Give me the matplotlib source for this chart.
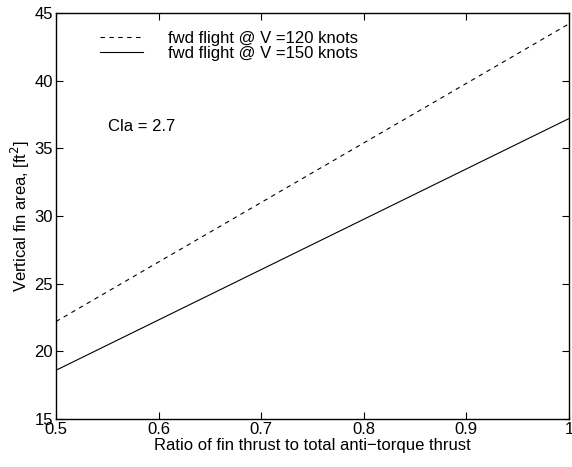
import matplotlib
matplotlib.use("Agg")
from matplotlib import pyplot as plt

plt.rcParams['font.family'] = ['Liberation Sans', 'DejaVu Sans']

ratio = [0.5, 1.0]
area_120 = [22.2, 44.2]
area_150 = [18.6, 37.2]
labels = ['fwd flight @ V =120 knots', 'fwd flight @ V =150 knots']

fig = plt.figure(figsize=(5.72, 4.67), dpi=100)
ax = fig.add_axes([0.0979, 0.1028, 0.8969, 0.8694])

ax.plot(ratio, area_120, 'k--', lw=0.8, dashes=(4, 4), label=labels[0])
ax.plot(ratio, area_150, 'k-', lw=0.8, label=labels[1])

ax.set_xlim(0.5, 1.0)
ax.set_ylim(15, 45)
ax.set_xticks([0.5, 0.6, 0.7, 0.8, 0.9, 1.0])
ax.set_xticklabels(['0.5', '0.6', '0.7', '0.8', '0.9', '1'])
ax.set_yticks([15, 20, 25, 30, 35, 40, 45])
ax.tick_params(direction='in', top=True, right=True, labelsize=12, length=5, pad=2)
for s in ax.spines.values():
    s.set_linewidth(1.0)

ax.set_xlabel('Ratio of fin thrust to total anti\u2212torque thrust', fontsize=12, labelpad=1)
ax.set_ylabel('Vertical fin area, [ft$^2$]', fontsize=12, labelpad=2)

ax.text(0.551, 36.3, 'Cla = 2.7', fontsize=12)

ax.legend(loc='upper left', bbox_to_anchor=(0.06, 0.988), frameon=False, fontsize=12,
          handlelength=2.6, handletextpad=1.5, labelspacing=0.0, borderpad=0.3)

fig.savefig('out.png', dpi=100)
